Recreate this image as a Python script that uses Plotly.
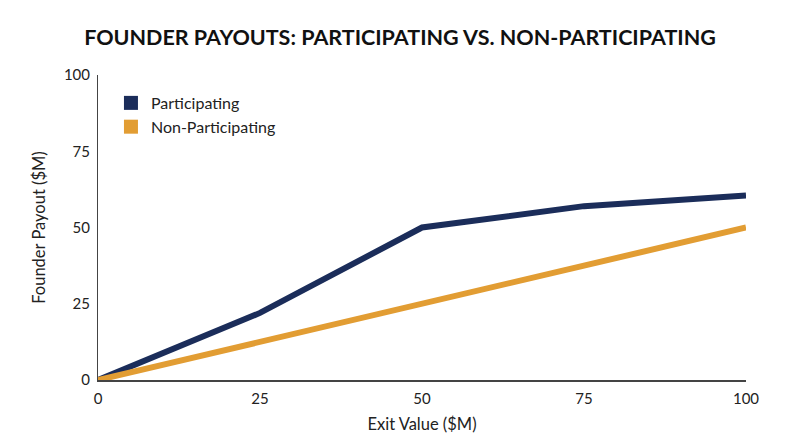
import plotly.graph_objects as go

# exit values ($M) and founder payouts ($M)
exit_values = [0, 25, 50, 75, 100]
participating = [0, 22, 50, 57, 60.5]
non_participating = [0, 12.5, 25, 37.5, 50]
tick_vals = [0, 25, 50, 75, 100]

NAVY = "#1B2D5A"
GOLD = "#E29D33"

fig = go.Figure()

series = [("Participating", participating, NAVY),
          ("Non-Participating", non_participating, GOLD)]

for name, ys, color in series:
    fig.add_trace(go.Scatter(
        x=exit_values, y=ys, mode="lines", name=name,
        line=dict(color=color, width=6), showlegend=False,
        cliponaxis=False, hoverinfo="x+y+name",
    ))
    # square legend swatch
    fig.add_trace(go.Scatter(
        x=[None], y=[None], mode="markers", name=name,
        marker=dict(symbol="square", size=14, color=color),
    ))

fig.update_layout(
    width=800, height=447,
    paper_bgcolor="white", plot_bgcolor="white",
    font=dict(family="Lato, Roboto, sans-serif", size=15, color="#222"),
    title=dict(text="<b>FOUNDER PAYOUTS: PARTICIPATING VS. NON-PARTICIPATING</b>",
               x=0.49, xanchor="center", y=0.933, yanchor="middle",
               font=dict(size=21.5, color="#111")),
    # page body adds an 8px offset, margins compensate for it
    margin=dict(l=90, r=62, t=67, b=75, autoexpand=False),
    legend=dict(x=0.02, y=0.964, xanchor="left", yanchor="top",
                bgcolor="rgba(0,0,0,0)", font=dict(size=16),
                itemwidth=30, tracegroupgap=2),
)

fig.update_xaxes(
    range=[0, 100], tickvals=tick_vals, showgrid=False, zeroline=False,
    showline=True, linecolor="#444", linewidth=2, ticks="", ticklen=0,
    ticklabelstandoff=4,
    title=dict(text="Exit Value ($M)", standoff=12, font=dict(size=16.5)),
)
fig.update_yaxes(
    range=[0, 100], tickvals=tick_vals, showgrid=False, zeroline=False,
    showline=True, linecolor="#444", linewidth=1, ticks="", ticklen=0,
    ticklabelstandoff=4,
    title=dict(text="Founder Payout ($M)", standoff=14, font=dict(size=16.5)),
)

fig.write_html("out.html")
